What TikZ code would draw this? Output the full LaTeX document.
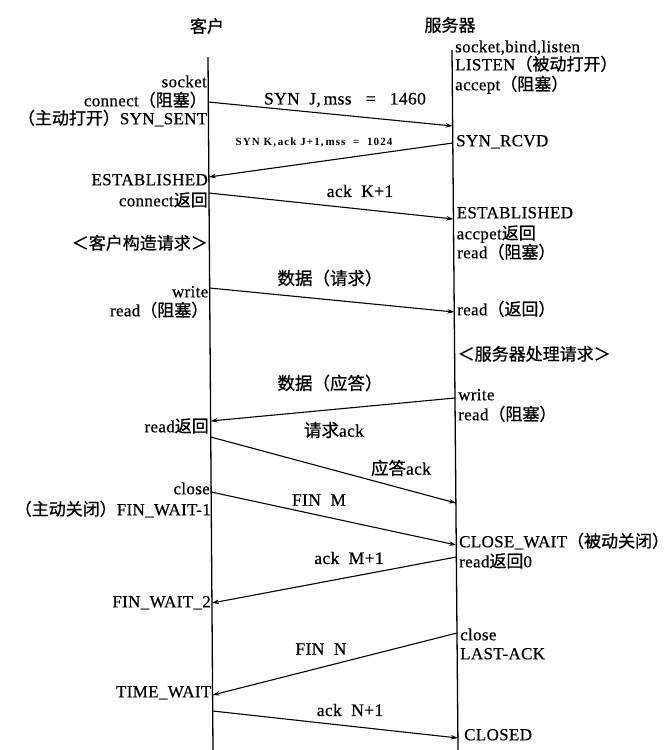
\documentclass[tikz,border=0pt]{standalone}
\usepackage{fontspec}
\setmainfont{Liberation Serif}[LetterSpace=2,FakeBold=0.5]
\newfontfamily\cjk{Noto Sans CJK SC}[FakeBold=0.8]
\newfontfamily\spacedsmall{Liberation Serif}[LetterSpace=10]
\newcommand{\zhs}[1]{{\cjk #1}}
\usetikzlibrary{arrows.meta}
\tikzset{
  lbl/.style={inner sep=0pt, font=\fontsize{17}{20}\selectfont},
  lft/.style={lbl, anchor=mid east},
  rgt/.style={lbl, anchor=mid west},
  msglbl/.style={inner sep=0pt, anchor=center, font=\fontsize{17.5}{20}\selectfont},
  ttl/.style={inner sep=0pt, font=\fontsize{17}{20}\selectfont\cjk},
  msg/.style={-{Stealth[length=7pt,width=4.5pt]}, line width=1.1pt},
  life/.style={line width=1.3pt}
}
\begin{document}
\begin{tikzpicture}[x=1pt,y=-1pt]
\useasboundingbox (0,0) rectangle (668,750);
% titles
\node[ttl] (tc) at (207,26) {客户};
\node[ttl] (ts) at (450,25) {服务器};
% lifelines
\coordinate (ctop) at (208,57);
\coordinate (cbot) at (213,750);
\coordinate (stop) at (452,50);
\coordinate (sbot) at (458,750);
\draw[life] (ctop) -- (cbot);
\draw[life] (stop) -- (sbot);
% message end points
\coordinate (c1) at (208.3,102); \coordinate (s1) at (452.6,126);
\coordinate (s2) at (452.8,143); \coordinate (c2) at (208.9,177);
\coordinate (c3) at (209.0,193); \coordinate (s3) at (453.4,219);
\coordinate (c4) at (209.7,288); \coordinate (s4) at (454.2,312);
\coordinate (s5) at (455.0,398); \coordinate (c5) at (210.6,421);
\coordinate (c6) at (210.7,437); \coordinate (s6) at (455.9,503);
\coordinate (c7) at (211.1,492); \coordinate (s7) at (456.2,545);
\coordinate (s8) at (456.3,557); \coordinate (c8) at (211.9,603);
\coordinate (s9) at (457.0,633); \coordinate (c9) at (212.6,695);
\coordinate (c10) at (212.7,711); \coordinate (s10) at (457.9,738);
\draw[msg] (c1) -- (s1);
\draw[msg] (s2) -- (c2);
\draw[msg] (c3) -- (s3);
\draw[msg] (c4) -- (s4);
\draw[msg] (s5) -- (c5);
\draw[msg] (c6) -- (s6);
\draw[msg] (c7) -- (s7);
\draw[msg] (s8) -- (c8);
\draw[msg] (s9) -- (c9);
\draw[msg] (c10) -- (s10);
% message labels
\node[msglbl] (m1) at (345,100) {SYN\ \ J,\,mss\ \ \ =\ \ \ 1460};
\node[inner sep=0pt, font=\fontsize{11}{13}\selectfont\spacedsmall\bfseries] (m2) at (314,143) {SYN\ K,\,ack\ J+1,\,mss\ \ =\ \ 1024};
\node[msglbl] (m3) at (360,191) {ack\ \ K+1};
\node[msglbl] (m4) at (330,278) {\zhs{数据（请求）}};
\node[msglbl] (m5) at (330,383) {\zhs{数据（应答）}};
\node[msglbl] (m6a) at (334,430) {\zhs{请求}ack};
\node[msglbl] (m6b) at (401,468) {\zhs{应答}ack};
\node[msglbl] (m7) at (319,500) {FIN\ \ M};
\node[msglbl] (m8) at (349,558) {ack\ \ M+1};
\node[msglbl] (m9) at (321,649) {FIN\ \ N};
\node[msglbl] (m10) at (350,710) {ack\ \ N+1};
% client side labels
\node[lft] (l1) at (207,85) {socket};
\node[lft] (l2) at (207,104) {connect\zhs{（阻塞）}};
\node[lft] (l3) at (207.5,122) {\zhs{（主动打开）}SYN\_SENT};
\node[lft] (l4) at (208,183) {ESTABLISHED};
\node[lft] (l5) at (208,204) {connect\zhs{返回}};
\node[lft] (l6) at (208,247) {\zhs{＜客户构造请求＞}};
\node[lft] (l7) at (208.5,295) {write};
\node[lft] (l8) at (208.5,314) {read\zhs{（阻塞）}};
\node[lft] (l9) at (209,430) {read\zhs{返回}};
\node[lft] (l10) at (210,492) {close};
\node[lft] (l11) at (211,513) {\zhs{（主动关闭）}FIN\_WAIT-1};
\node[lft] (l12) at (211,605) {FIN\_WAIT\_2};
\node[lft] (l13) at (211.5,695) {TIME\_WAIT};
% server side labels
\node[rgt] (r1) at (455,50) {socket,bind,listen};
\node[rgt] (r2) at (455,68) {LISTEN\zhs{（被动打开）}};
\node[rgt] (r3) at (455,88) {accept\zhs{（阻塞）}};
\node[rgt] (r4) at (456,144) {SYN\_RCVD};
\node[rgt] (r5) at (456.5,216) {ESTABLISHED};
\node[rgt] (r6) at (456.5,237) {accpet\zhs{返回}};
\node[rgt] (r7) at (457,256) {read\zhs{（阻塞）}};
\node[rgt] (r8) at (457,313) {read\zhs{（返回）}};
\node[rgt] (r9) at (457.5,358) {\zhs{＜服务器处理请求＞}};
\node[rgt] (r10) at (458,398) {write};
\node[rgt] (r11) at (458,418) {read\zhs{（阻塞）}};
\node[rgt] (r12) at (459,545) {CLOSE\_WAIT\zhs{（被动关闭）}};
\node[rgt] (r13) at (459,565) {read\zhs{返回}0};
\node[rgt] (r14) at (460,638) {close};
\node[rgt] (r15) at (460,657) {LAST-ACK};
\node[rgt] (r16) at (464,738) {CLOSED};
\end{tikzpicture}
\end{document}
